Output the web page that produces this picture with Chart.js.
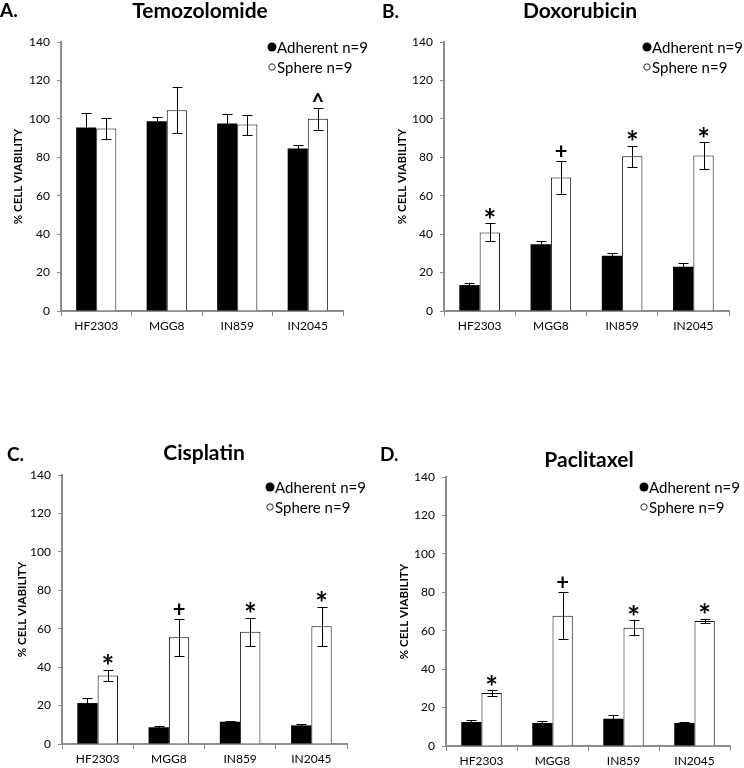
<!DOCTYPE html>
<html>
<head>
<meta charset="utf-8">
<script src="https://cdn.jsdelivr.net/npm/chart.js@4.4.1/dist/chart.umd.min.js"></script>
<style>
  body { margin: 0; background: #fff; }
  #wrap { position: relative; width: 744px; height: 768px; }
  canvas { position: absolute; }
</style>
</head>
<body>
<div id="wrap">
  <canvas id="cA" width="372" height="384" style="left:0;top:0"></canvas>
  <canvas id="cB" width="372" height="384" style="left:372px;top:0"></canvas>
  <canvas id="cC" width="372" height="384" style="left:0;top:384px"></canvas>
  <canvas id="cD" width="372" height="384" style="left:372px;top:384px"></canvas>
</div>
<script>
// cell lines (x categories)
const cellLines = ['HF2303', 'MGG8', 'IN859', 'IN2045'];
const seriesNames = ['Adherent n=9', 'Sphere n=9'];
const yMin = 0, yMax = 140, yStep = 20;

// A. Temozolomide
const tmzAdherent = [95.5, 98.8, 97.6, 84.6];
const tmzAdherentErr = [7.3, 2.3, 4.7, 2.0];
const tmzSphere = [95.0, 104.5, 97.0, 100.0];
const tmzSphereErr = [5.5, 12.0, 5.2, 5.7];
const tmzMarks = ['', '', '', '^'];

// B. Doxorubicin
const doxAdherent = [13.5, 34.8, 28.8, 23.0];
const doxAdherentErr = [1.0, 1.4, 1.2, 1.8];
const doxSphere = [40.9, 69.5, 80.6, 80.9];
const doxSphereErr = [4.7, 8.5, 5.5, 6.8];
const doxMarks = ['*', '+', '*', '*'];

// C. Cisplatin
const cisAdherent = [21.3, 8.7, 11.6, 9.7];
const cisAdherentErr = [2.6, 0.5, 0.5, 0.9];
const cisSphere = [35.7, 55.5, 58.4, 61.3];
const cisSphereErr = [2.9, 9.5, 7.3, 10.2];
const cisMarks = ['*', '+', '*', '*'];

// D. Paclitaxel
const pacAdherent = [12.5, 12.0, 14.2, 12.0];
const pacAdherentErr = [0.9, 0.8, 2.1, 0.3];
const pacSphere = [27.6, 67.8, 61.6, 65.0];
const pacSphereErr = [1.4, 12.3, 3.8, 1.1];
const pacMarks = ['*', '+', '*', '*'];

const FONT = 'Lato, "Open Sans", sans-serif';
const AXIS = '#8c8c8c';

// draws error bars, significance marks, title, panel letter and legend
const extras = {
  id: 'extras',
  afterDatasetsDraw(chart, args, o) {
    const ctx = chart.ctx, ys = chart.scales.y;
    ctx.save();
    ctx.strokeStyle = '#000';
    ctx.lineWidth = 1;
    chart.data.datasets.forEach((ds, i) => {
      chart.getDatasetMeta(i).data.forEach((bar, j) => {
        const v = ds.data[j], e = ds.errors[j];
        const x = Math.round(bar.x) + 0.5;
        const t = Math.round(ys.getPixelForValue(v + e)) + 0.5;
        const b = Math.round(ys.getPixelForValue(v - e)) + 0.5;
        ctx.beginPath();
        ctx.moveTo(x, t); ctx.lineTo(x, b);
        ctx.moveTo(x - 5, t); ctx.lineTo(x + 5, t);
        ctx.moveTo(x - 5, b); ctx.lineTo(x + 5, b);
        ctx.stroke();
      });
    });
    // marks above sphere bars
    const sp = chart.data.datasets[1];
    ctx.fillStyle = '#000';
    ctx.textAlign = 'center';
    ctx.textBaseline = 'alphabetic';
    chart.getDatasetMeta(1).data.forEach((bar, j) => {
      const m = o.marks[j];
      if (!m) return;
      ctx.font = (m === '*' ? 'bold 30px ' : 'bold 22px ') + FONT;
      const t = ys.getPixelForValue(sp.data[j] + sp.errors[j]);
      const mt = ctx.measureText(m);
      const cy = t - 10;
      const off = (mt.actualBoundingBoxAscent - mt.actualBoundingBoxDescent) / 2;
      ctx.fillText(m, bar.x, cy + off);
    });
    ctx.restore();
  },
  afterDraw(chart, args, o) {
    const ctx = chart.ctx;
    ctx.save();
    ctx.fillStyle = '#000';
    ctx.textBaseline = 'middle';
    ctx.textAlign = 'center';
    ctx.font = 'bold 21px ' + FONT;
    ctx.fillText(o.title, o.titleX, o.titleY);
    ctx.textAlign = 'left';
    ctx.font = 'bold 19px ' + FONT;
    ctx.fillText(o.letter, o.letterX, o.letterY);
    // legend
    const lx = o.legendX, ly = o.legendY;
    ctx.beginPath();
    ctx.arc(lx, ly, 4.5, 0, Math.PI * 2);
    ctx.fill();
    ctx.beginPath();
    ctx.arc(lx, ly + 20, 3.2, 0, Math.PI * 2);
    ctx.fillStyle = '#fff';
    ctx.fill();
    ctx.strokeStyle = '#333';
    ctx.lineWidth = 1;
    ctx.stroke();
    ctx.fillStyle = '#000';
    ctx.font = '15px ' + FONT;
    ctx.fillText(seriesNames[0], lx + 5, ly + 1);
    ctx.fillText(seriesNames[1], lx + 5, ly + 21);
    ctx.restore();
  }
};

function makePanel(id, p) {
  new Chart(document.getElementById(id), {
    type: 'bar',
    data: {
      labels: cellLines,
      datasets: [
        { label: seriesNames[0], data: p.adherent, errors: p.adherentErr,
          backgroundColor: '#000', borderColor: '#000', borderWidth: 0 },
        { label: seriesNames[1], data: p.sphere, errors: p.sphereErr,
          backgroundColor: '#fff', borderColor: '#000', borderWidth: 1 }
      ]
    },
    options: {
      responsive: false,
      animation: false,
      categoryPercentage: 0.57,
      barPercentage: 1,
      layout: { padding: { left: 0, top: p.area.top, right: 372 - p.area.right, bottom: 0 } },
      plugins: {
        legend: { display: false },
        tooltip: { enabled: false },
        extras: {
          marks: p.marks, title: p.title, titleX: p.titleX, titleY: p.titleY,
          letter: p.letter, letterX: p.letterX, letterY: p.letterY,
          legendX: p.legendX, legendY: p.legendY
        }
      },
      scales: {
        x: {
          afterFit: (s) => { s.height = 384 - p.area.bottom; },
          grid: { drawOnChartArea: false, tickLength: 5, color: AXIS, lineWidth: 1 },
          border: { color: AXIS, width: 2 },
          ticks: { color: '#000', font: { family: FONT, size: 12 }, padding: 3 }
        },
        y: {
          min: yMin, max: yMax,
          afterFit: (s) => { s.width = p.area.left; },
          grid: { drawOnChartArea: false, tickLength: 4, color: AXIS, lineWidth: 1 },
          border: { color: AXIS, width: 2 },
          ticks: { stepSize: yStep, color: '#000', font: { family: FONT, size: 12 }, padding: 7 },
          title: { display: true, text: '% CELL VIABILITY', color: '#000',
                   font: { family: FONT, size: 11.5, weight: 'bold' },
                   padding: { top: p.yTitlePad, bottom: 0 } }
        }
      }
    },
    plugins: [extras]
  });
}

makePanel('cA', {
  adherent: tmzAdherent, adherentErr: tmzAdherentErr, sphere: tmzSphere, sphereErr: tmzSphereErr,
  marks: tmzMarks, title: 'Temozolomide', letter: 'A.',
  area: { left: 61, top: 42, right: 343, bottom: 311 },
  titleX: 200, titleY: 11, letterX: 0, letterY: 11, legendX: 272, legendY: 47, yTitlePad: 11
});
makePanel('cB', {
  adherent: doxAdherent, adherentErr: doxAdherentErr, sphere: doxSphere, sphereErr: doxSphereErr,
  marks: doxMarks, title: 'Doxorubicin', letter: 'B.',
  area: { left: 72, top: 42, right: 357, bottom: 311 },
  titleX: 208, titleY: 11, letterX: 10, letterY: 12, legendX: 275, legendY: 47, yTitlePad: 23
});
makePanel('cC', {
  adherent: cisAdherent, adherentErr: cisAdherentErr, sphere: cisSphere, sphereErr: cisSphereErr,
  marks: cisMarks, title: 'Cisplatin', letter: 'C.',
  area: { left: 62, top: 91, right: 347, bottom: 360 },
  titleX: 204, titleY: 69, letterX: 7, letterY: 71, legendX: 270, legendY: 103, yTitlePad: 15
});
makePanel('cD', {
  adherent: pacAdherent, adherentErr: pacAdherentErr, sphere: pacSphere, sphereErr: pacSphereErr,
  marks: pacMarks, title: 'Paclitaxel', letter: 'D.',
  area: { left: 74, top: 93, right: 358, bottom: 362 },
  titleX: 217, titleY: 76, letterX: 8, letterY: 71, legendX: 272, legendY: 103, yTitlePad: 25
});
</script>
</body>
</html>
